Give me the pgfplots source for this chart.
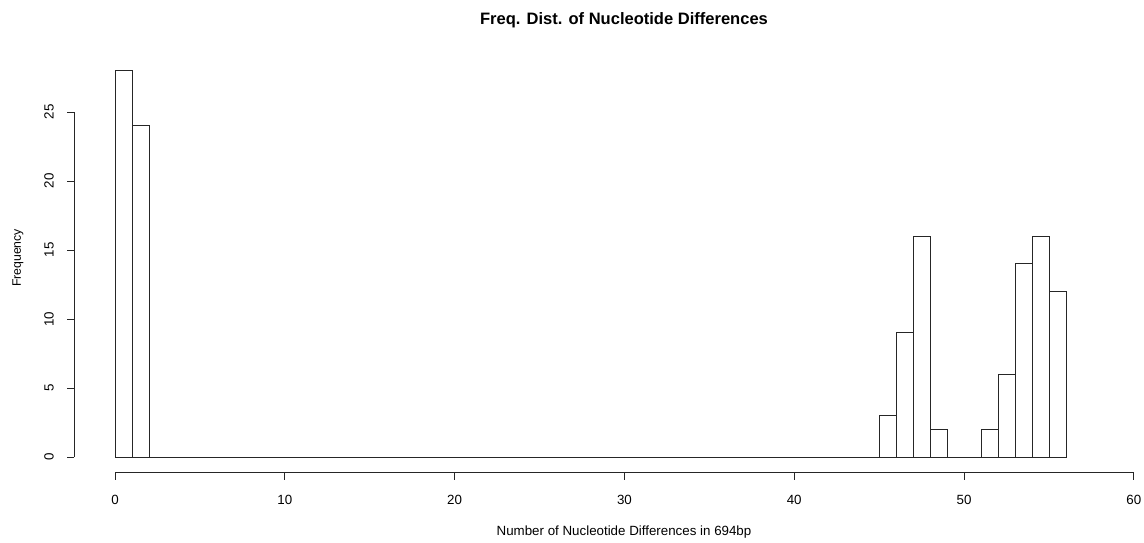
\documentclass[border=0pt]{standalone}
\usepackage{pgfplots}
\pgfplotsset{compat=1.18}
\usepackage{fontspec}
\setmainfont{Liberation Sans}
\begin{document}
\begin{tikzpicture}[x=1pt,y=1pt]
\useasboundingbox (0,0) rectangle (858,406.5);
\begin{axis}[
  at={(55.7pt,52.1pt)}, anchor=south west,
  scale only axis, width=802.3pt, height=313.1pt,
  xmin=-2.4, xmax=60.6, ymin=-1.12, ymax=29.12,
  axis line style={draw=none},
  xtick={0,10,...,60}, ytick={0,5,...,25},
  yticklabels={},
  tick align=outside, major tick length=5.25pt,
  tick style={black!85, line width=0.5pt},
  xtick pos=bottom, ytick pos=left,
  /pgf/number format/assume math mode=true,
  tick label style={font=\fontsize{10}{12}\selectfont},
  xticklabel style={yshift=-8.5pt},
  clip=false,
]
\addplot[ybar interval, fill=white, draw=black!85, line width=0.5pt] coordinates {
(0,28) (1,24) (2,0) (45,3) (46,9) (47,16) (48,2) (49,0) (51,2) (52,6) (53,14) (54,16) (55,12) (56,0)};
\draw[line width=0.5pt, black!85] (axis cs:0,-1.12) -- (axis cs:60,-1.12);
\draw[line width=0.5pt, black!85] (axis cs:-2.4,0) -- (axis cs:-2.4,25);
\end{axis}
\foreach \v/\yy in {0/63.70, 5/115.47, 10/167.24, 15/219.01, 20/270.78, 25/322.55}{
  \node[font=\fontsize{10}{12}\selectfont, rotate=90, inner sep=0pt] at (36.8,\yy) {\v};
}
\node[font=\fontsize{12.4}{14}\selectfont\bfseries] at (468,391) {Freq. Dist. of Nucleotide Differences};
\node[font=\fontsize{10}{12}\selectfont] at (468,7.5) {Number of Nucleotide Differences in 694bp};
\node[font=\fontsize{9.2}{11}\selectfont, rotate=90] at (13.5,213) {Frequency};
\end{tikzpicture}
\end{document}
